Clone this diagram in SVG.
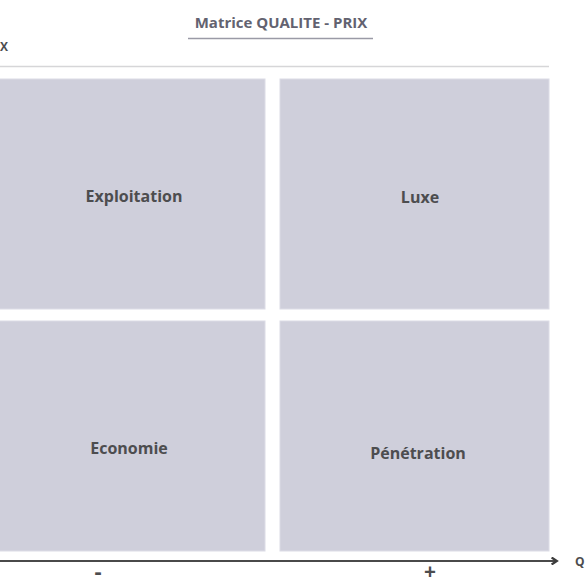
<svg xmlns="http://www.w3.org/2000/svg" width="585" height="585" viewBox="0 0 585 585">
<style>
.q{fill:#cfcfdb;stroke:#dcdce6;stroke-width:1}
.lbl{font-family:"Open Sans","Liberation Sans",sans-serif;font-weight:bold;font-size:16px;fill:#4d4d4f;text-anchor:middle}
.ttl{font-family:"Open Sans","Liberation Sans",sans-serif;font-weight:bold;font-size:15px;fill:#626270;text-anchor:middle}
.ax{font-family:"Open Sans","Liberation Sans",sans-serif;font-weight:bold;fill:#4d4d4f}
</style>
<defs>
<marker id="arr" viewBox="0 0 10 10" refX="6" refY="5" markerWidth="4" markerHeight="4" orient="auto" markerUnits="strokeWidth">
<path d="M1,1 L7,5 L1,9" fill="none" stroke="#3c3c3c" stroke-width="2.5"/>
</marker>
</defs>
<rect width="585" height="585" fill="#ffffff"/>
<g id="title">
<text class="ttl" x="281" y="28">Matrice QUALITE - PRIX</text>
<line x1="188" y1="38.5" x2="373" y2="38.5" stroke="#9a9aa6" stroke-width="1.5"/>
</g>
<g id="axis-y-label">
<text class="ax" x="0" y="51" font-size="12">X</text>
<line x1="0" y1="66.5" x2="549" y2="66.5" stroke="#d6d6d8" stroke-width="1.5"/>
</g>
<g id="exploitation">
<rect class="q" x="-5" y="79" width="270" height="230"/>
<text class="lbl" x="134" y="202">Exploitation</text>
</g>
<g id="luxe">
<rect class="q" x="280" y="79" width="269" height="230"/>
<text class="lbl" x="420" y="203">Luxe</text>
</g>
<g id="economie">
<rect class="q" x="-5" y="321" width="270" height="230"/>
<text class="lbl" x="129" y="454">Economie</text>
</g>
<g id="penetration">
<rect class="q" x="280" y="321" width="269" height="230"/>
<text class="lbl" x="418" y="459">Pénétration</text>
</g>
<g id="connectors">
<line x1="0" y1="561" x2="556" y2="561" stroke="#4a4a4a" stroke-width="2.2" marker-end="url(#arr)"/>
</g>
<g id="axis-x-label">
<text class="ax" x="575" y="566" font-size="12">Q</text>
<text class="ax" x="98" y="579" font-size="22" text-anchor="middle">-</text>
<text class="ax" x="430" y="579" font-size="21" text-anchor="middle">+</text>
</g>
</svg>
